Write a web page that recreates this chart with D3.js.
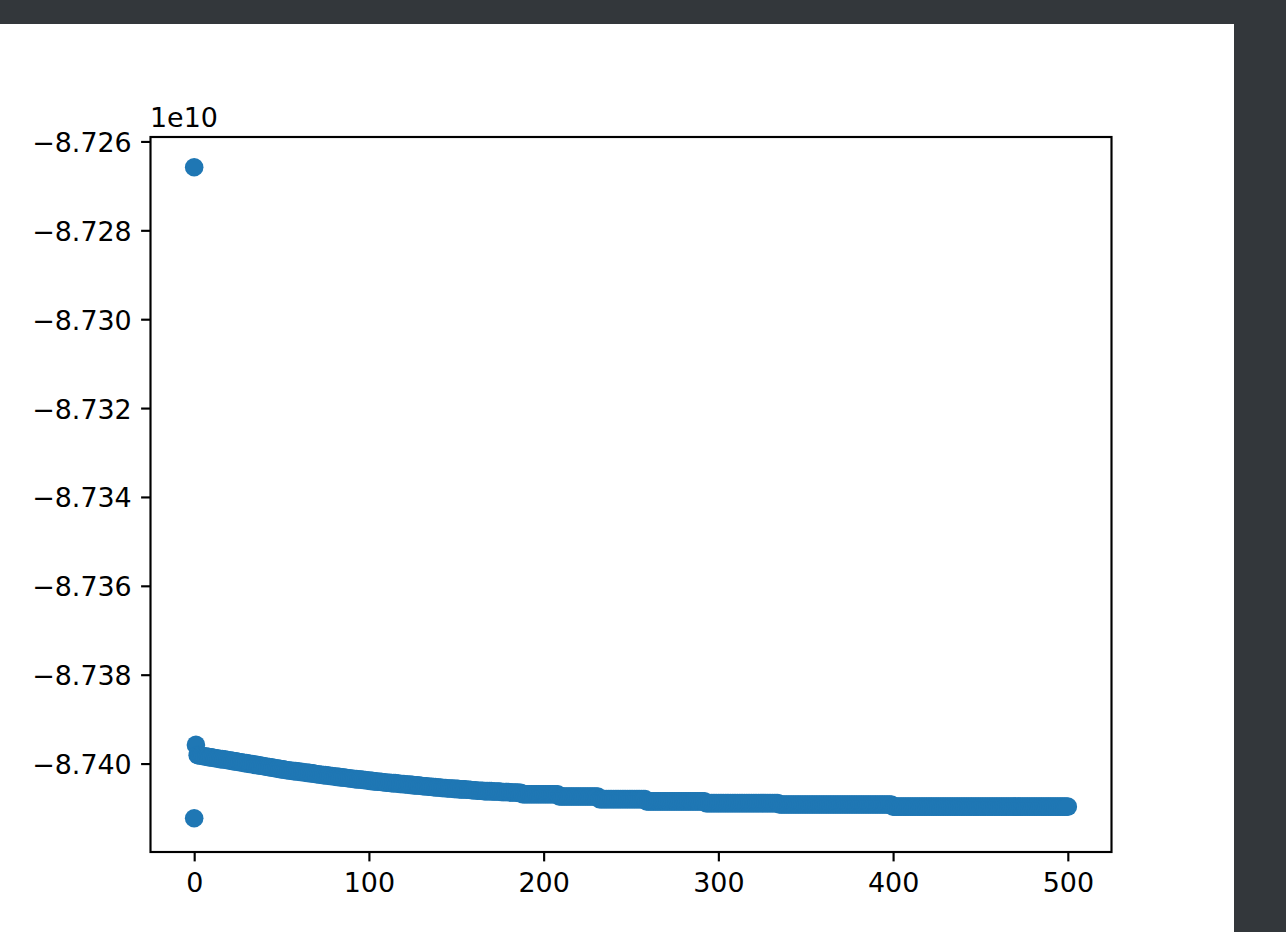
<!DOCTYPE html>
<html><head><meta charset="utf-8">
<script src="https://cdn.jsdelivr.net/npm/d3@7"></script>
<style>html,body{margin:0;padding:0;background:#33373b;overflow:hidden}</style>
</head><body><svg id="c" width="1286" height="932"></svg>
<script>
// ---- data (y values in units of 1e10) ----
const headX = [0, 0, 1];
const headY = [-8.72658, -8.74123, -8.73958];
const seriesStartX = 2;
const seriesY = [
// x 2-191
-8.73981,-8.73982,-8.73982,-8.73983,-8.73984,-8.73984,-8.73985,-8.73986,-8.73986,-8.73987,
-8.73988,-8.73988,-8.73989,-8.73990,-8.73990,-8.73991,-8.73991,-8.73992,-8.73993,-8.73993,
-8.73994,-8.73995,-8.73995,-8.73996,-8.73997,-8.73997,-8.73998,-8.73999,-8.73999,-8.74000,
-8.74001,-8.74001,-8.74002,-8.74003,-8.74003,-8.74004,-8.74005,-8.74005,-8.74006,-8.74007,
-8.74007,-8.74008,-8.74009,-8.74009,-8.74010,-8.74011,-8.74011,-8.74012,-8.74013,-8.74013,
-8.74014,-8.74015,-8.74015,-8.74016,-8.74016,-8.74017,-8.74017,-8.74018,-8.74018,-8.74019,
-8.74019,-8.74020,-8.74020,-8.74021,-8.74021,-8.74022,-8.74022,-8.74023,-8.74024,-8.74024,
-8.74025,-8.74025,-8.74026,-8.74026,-8.74027,-8.74027,-8.74028,-8.74028,-8.74029,-8.74029,
-8.74030,-8.74030,-8.74031,-8.74031,-8.74032,-8.74032,-8.74033,-8.74033,-8.74034,-8.74034,
-8.74035,-8.74035,-8.74036,-8.74036,-8.74036,-8.74037,-8.74037,-8.74038,-8.74038,-8.74039,
-8.74039,-8.74040,-8.74040,-8.74041,-8.74041,-8.74041,-8.74042,-8.74042,-8.74043,-8.74043,
-8.74043,-8.74044,-8.74044,-8.74044,-8.74045,-8.74045,-8.74046,-8.74046,-8.74046,-8.74047,
-8.74047,-8.74047,-8.74048,-8.74048,-8.74049,-8.74049,-8.74049,-8.74050,-8.74050,-8.74051,
-8.74051,-8.74051,-8.74052,-8.74052,-8.74052,-8.74053,-8.74053,-8.74054,-8.74054,-8.74054,
-8.74055,-8.74055,-8.74055,-8.74056,-8.74056,-8.74056,-8.74056,-8.74057,-8.74057,-8.74057,
-8.74058,-8.74058,-8.74058,-8.74058,-8.74059,-8.74059,-8.74059,-8.74060,-8.74060,-8.74060,
-8.74061,-8.74061,-8.74061,-8.74061,-8.74062,-8.74062,-8.74062,-8.74062,-8.74062,-8.74063,
-8.74063,-8.74063,-8.74063,-8.74063,-8.74064,-8.74064,-8.74064,-8.74064,-8.74064,-8.74065,
-8.74065,-8.74065,-8.74065,-8.74065,-8.74066,-8.74066,-8.74069,-8.74069,-8.74069,-8.74069,
// x 192-291
-8.74069,-8.74069,-8.74069,-8.74069,-8.74069,-8.74069,-8.74069,-8.74069,-8.74069,-8.74069,
-8.74069,-8.74069,-8.74069,-8.74069,-8.74069,-8.74069,-8.74069,-8.74074,-8.74074,-8.74074,
-8.74074,-8.74074,-8.74074,-8.74074,-8.74074,-8.74074,-8.74074,-8.74074,-8.74074,-8.74074,
-8.74074,-8.74074,-8.74074,-8.74074,-8.74074,-8.74074,-8.74074,-8.74074,-8.74074,-8.74074,
-8.74080,-8.74080,-8.74080,-8.74080,-8.74080,-8.74080,-8.74080,-8.74080,-8.74080,-8.74080,
-8.74080,-8.74080,-8.74080,-8.74080,-8.74080,-8.74080,-8.74080,-8.74080,-8.74080,-8.74080,
-8.74080,-8.74080,-8.74080,-8.74080,-8.74080,-8.74080,-8.74080,-8.74085,-8.74085,-8.74085,
-8.74085,-8.74085,-8.74085,-8.74085,-8.74085,-8.74085,-8.74085,-8.74085,-8.74085,-8.74085,
-8.74085,-8.74085,-8.74085,-8.74085,-8.74085,-8.74085,-8.74085,-8.74085,-8.74085,-8.74085,
-8.74085,-8.74085,-8.74085,-8.74085,-8.74085,-8.74085,-8.74085,-8.74085,-8.74085,-8.74085,
// x 292-391
-8.74085,-8.74089,-8.74089,-8.74089,-8.74089,-8.74089,-8.74089,-8.74089,-8.74089,-8.74089,
-8.74089,-8.74089,-8.74089,-8.74089,-8.74089,-8.74089,-8.74089,-8.74089,-8.74089,-8.74089,
-8.74089,-8.74089,-8.74089,-8.74089,-8.74089,-8.74089,-8.74089,-8.74089,-8.74089,-8.74089,
-8.74089,-8.74089,-8.74089,-8.74089,-8.74089,-8.74089,-8.74089,-8.74089,-8.74089,-8.74089,
-8.74089,-8.74089,-8.74089,-8.74092,-8.74092,-8.74092,-8.74092,-8.74092,-8.74092,-8.74092,
-8.74092,-8.74092,-8.74092,-8.74092,-8.74092,-8.74092,-8.74092,-8.74092,-8.74092,-8.74092,
-8.74092,-8.74092,-8.74092,-8.74092,-8.74092,-8.74092,-8.74092,-8.74092,-8.74092,-8.74092,
-8.74092,-8.74092,-8.74092,-8.74092,-8.74092,-8.74092,-8.74092,-8.74092,-8.74092,-8.74092,
-8.74092,-8.74092,-8.74092,-8.74092,-8.74092,-8.74092,-8.74092,-8.74092,-8.74092,-8.74092,
-8.74092,-8.74092,-8.74092,-8.74092,-8.74092,-8.74092,-8.74092,-8.74092,-8.74092,-8.74092,
// x 392-500
-8.74092,-8.74092,-8.74092,-8.74092,-8.74092,-8.74092,-8.74092,-8.74092,-8.74097,-8.74097,
-8.74097,-8.74097,-8.74097,-8.74097,-8.74097,-8.74097,-8.74097,-8.74097,-8.74097,-8.74097,
-8.74097,-8.74097,-8.74097,-8.74097,-8.74097,-8.74097,-8.74097,-8.74097,-8.74097,-8.74097,
-8.74097,-8.74097,-8.74097,-8.74097,-8.74097,-8.74097,-8.74097,-8.74097,-8.74097,-8.74097,
-8.74097,-8.74097,-8.74097,-8.74097,-8.74097,-8.74097,-8.74097,-8.74097,-8.74097,-8.74097,
-8.74097,-8.74097,-8.74097,-8.74097,-8.74097,-8.74097,-8.74097,-8.74097,-8.74097,-8.74097,
-8.74097,-8.74097,-8.74097,-8.74097,-8.74097,-8.74097,-8.74097,-8.74097,-8.74097,-8.74097,
-8.74097,-8.74097,-8.74097,-8.74097,-8.74097,-8.74097,-8.74097,-8.74097,-8.74097,-8.74097,
-8.74097,-8.74097,-8.74097,-8.74097,-8.74097,-8.74097,-8.74097,-8.74097,-8.74097,-8.74097,
-8.74097,-8.74097,-8.74097,-8.74097,-8.74097,-8.74097,-8.74097,-8.74097,-8.74097,-8.74097,
-8.74097,-8.74097,-8.74097,-8.74097,-8.74097,-8.74097,-8.74097,-8.74097,-8.74097
];
const xTicks = [0, 100, 200, 300, 400, 500];
const yTicks = [-8.726, -8.728, -8.730, -8.732, -8.734, -8.736, -8.738, -8.740];
const offsetLabel = "1e10";
const xDomain = [-25, 525];
const yDomain = [-8.74199, -8.7259];

// ---- drawing ----
const W = 1286, H = 932;
const FONT = "'DejaVu Sans', sans-serif", FS = "26.9px";
const BLUE = "#1f77b4";
const svg = d3.select("#c");
svg.append("rect").attr("x", 0).attr("y", 0).attr("width", W).attr("height", H).attr("fill", "#33373b");
svg.append("rect").attr("x", 0).attr("y", 24).attr("width", 1234).attr("height", H - 24).attr("fill", "#ffffff");

const L = 150.5, R = 1111.5, T = 137, B = 852;
const x = d3.scaleLinear().domain(xDomain).range([L, R]);
const y = d3.scaleLinear().domain(yDomain).range([B, T]);

const pts = headX.map((d, i) => ({x: d, y: headY[i]}))
  .concat(seriesY.map((v, i) => ({x: seriesStartX + i, y: v})));

svg.append("g").selectAll("circle").data(pts).join("circle")
  .attr("cx", d => x(d.x)).attr("cy", d => y(d.y)).attr("r", 9.3)
  .attr("fill", BLUE);

const fmt = d3.format(".3f");
const gy = svg.append("g").attr("transform", `translate(${L},0)`)
  .call(d3.axisLeft(y).tickValues(yTicks).tickFormat(fmt).tickSize(9.4).tickPadding(9.4));
const gx = svg.append("g").attr("transform", `translate(0,${B})`)
  .call(d3.axisBottom(x).tickValues(xTicks).tickFormat(d3.format("d")).tickSize(9.4).tickPadding(9.4));
[gx, gy].forEach(g => {
  g.select(".domain").remove();
  g.selectAll(".tick line").attr("stroke", "#000").attr("stroke-width", 2.15);
  g.selectAll(".tick text").attr("fill", "#000").style("font-family", FONT).style("font-size", FS);
});
gy.selectAll(".tick text").attr("dy", "0.37em");
gx.selectAll(".tick text").attr("dy", "0.78em");

svg.append("rect").attr("x", L).attr("y", T).attr("width", R - L).attr("height", B - T)
  .attr("fill", "none").attr("stroke", "#000").attr("stroke-width", 2.15);

svg.append("text").attr("x", 150).attr("y", 127).text(offsetLabel)
  .attr("fill", "#000").style("font-family", FONT).style("font-size", FS);
</script>
</body></html>
